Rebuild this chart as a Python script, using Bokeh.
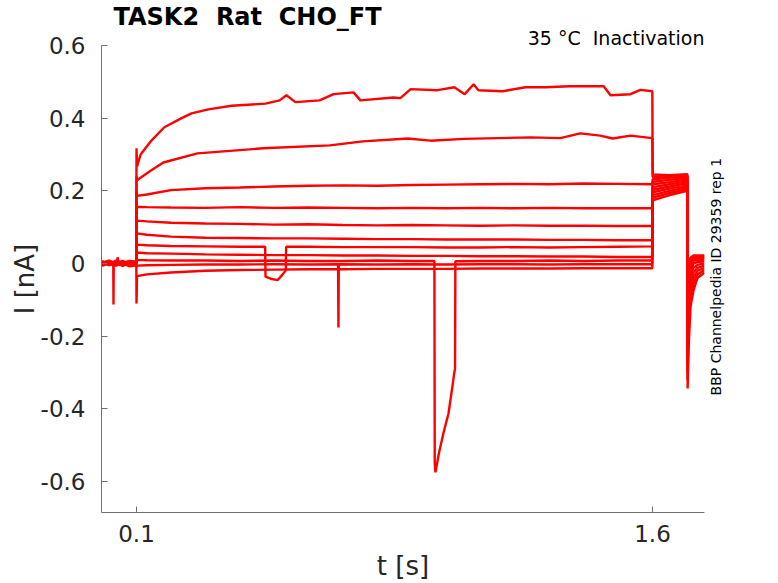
from bokeh.plotting import figure
from bokeh.models import Range1d, FixedTicker, LinearAxis, Title
from bokeh.embed import file_html
from bokeh.resources import INLINE
import math

# ---------------- data ----------------
X_TICKS = [0.1, 1.6]
X_LABELS = ["0.1", "1.6"]
Y_TICKS = [-0.6, -0.4, -0.2, 0.0, 0.2, 0.4, 0.6]
Y_LABELS = ["-0.6", "-0.4", "-0.2", "0", "0.2", "0.4", "0.6"]

# shared time grids [s]
PRE_T = [0.0, 0.02, 0.04, 0.06, 0.08, 0.0995]
STEP_T = [0.1, 0.1015, 0.13, 0.2, 0.3, 0.4, 0.5, 0.6, 0.7, 0.8, 0.9, 1.0,
          1.1, 1.2, 1.3, 1.4, 1.5, 1.5995]
POST_T = [1.6005, 1.65, 1.7012]
TAIL_T = [1.7022, 1.7046, 1.7104, 1.7192, 1.7308, 1.751]

# trace A (largest current)
pre_A = [0.004, -0.004, 0.008, 0.002, 0.006, 0.003]
step_t_A = [0.1, 0.1015, 0.112, 0.141, 0.181, 0.231, 0.260, 0.309, 0.376, 0.475,
            0.516, 0.536, 0.562, 0.632, 0.673, 0.731, 0.751, 0.847, 0.867, 0.897,
            0.975, 1.024, 1.054, 1.080, 1.094, 1.164, 1.231, 1.289, 1.359, 1.458,
            1.478, 1.536, 1.565, 1.5995]
step_A = [0.317, 0.267, 0.30, 0.336, 0.375, 0.40, 0.413, 0.424, 0.434, 0.44,
          0.449, 0.463, 0.444, 0.449, 0.466, 0.471, 0.449, 0.457, 0.455, 0.48,
          0.477, 0.485, 0.466, 0.493, 0.477, 0.474, 0.485, 0.485, 0.488, 0.488,
          0.463, 0.466, 0.478, 0.474]
post_A = [0.245, 0.243, 0.246]
tail_A = [-0.344, -0.24, -0.12, -0.074, -0.04, -0.025]

# trace B
pre_B = [-0.002, 0.006, 0.001, 0.007, -0.003, 0.002]
step_t_B = [0.1, 0.1015, 0.141, 0.178, 0.277, 0.468, 0.662, 0.758, 0.888, 0.955,
            1.051, 1.245, 1.332, 1.390, 1.448, 1.484, 1.536, 1.5995]
step_B = [0.24, 0.229, 0.255, 0.278, 0.303, 0.317, 0.325, 0.336, 0.344, 0.338,
          0.343, 0.347, 0.345, 0.358, 0.352, 0.344, 0.352, 0.345]
post_B = [0.238, 0.24, 0.243]
tail_B = [-0.32, -0.20, -0.09, -0.055, -0.03, -0.018]

# traces C..F, H, K on the shared grid
pre_C = [0.007, -0.004, 0.003, -0.006, 0.005, 0.000]
step_C = [0.20, 0.186, 0.19, 0.202, 0.207, 0.209, 0.212, 0.214, 0.215, 0.214,
          0.216, 0.217, 0.218, 0.219, 0.218, 0.220, 0.219, 0.218]
post_C = [0.232, 0.236, 0.24]
tail_C = [-0.30, -0.16, -0.07, -0.04, -0.02, -0.012]

pre_D = [0.000, 0.007, -0.005, 0.004, 0.001, 0.005]
step_D = [0.165, 0.156, 0.155, 0.154, 0.153, 0.155, 0.153, 0.154, 0.153, 0.152,
          0.153, 0.152, 0.153, 0.152, 0.153, 0.152, 0.152, 0.152]
post_D = [0.225, 0.23, 0.236]
tail_D = [-0.28, -0.13, -0.05, -0.025, -0.012, -0.006]

pre_E = [0.003, -0.002, 0.005, -0.004, 0.002, -0.003]
step_E = [0.125, 0.118, 0.116, 0.112, 0.110, 0.109, 0.107, 0.108, 0.106, 0.105,
          0.106, 0.105, 0.104, 0.105, 0.104, 0.104, 0.103, 0.103]
post_E = [0.218, 0.224, 0.231]
tail_E = [-0.26, -0.10, -0.035, -0.012, -0.004, 0.0]

pre_F = [-0.005, 0.002, -0.002, 0.005, -0.004, 0.001]
step_F = [0.09, 0.083, 0.079, 0.074, 0.071, 0.070, 0.069, 0.069, 0.068, 0.067,
          0.067, 0.066, 0.066, 0.066, 0.065, 0.065, 0.064, 0.064]
post_F = [0.21, 0.218, 0.226]
tail_F = [-0.24, -0.08, -0.02, 0.0, 0.004, 0.006]

# trace G (with a dip around 0.5 s)
pre_G = [0.002, 0.008, 0.000, 0.001, 0.007, 0.005]
step_t_G = [0.1, 0.1015, 0.13, 0.2, 0.3, 0.4, 0.474, 0.475, 0.49, 0.51,
            0.525, 0.534, 0.535, 0.6, 0.7, 0.8, 0.9, 1.0, 1.1, 1.2,
            1.3, 1.4, 1.5, 1.5995]
step_G = [0.065, 0.052, 0.050, 0.048, 0.047, 0.046, 0.046, -0.036, -0.042, -0.046,
          -0.03, -0.019, 0.046, 0.046, 0.045, 0.045, 0.045, 0.044, 0.044, 0.045,
          0.044, 0.045, 0.046, 0.047]
post_G = [0.203, 0.212, 0.221]
tail_G = [-0.22, -0.06, -0.01, 0.008, 0.01, 0.011]

# trace H (small blip before the step)
pre_t_H = [0.0, 0.02, 0.044, 0.045, 0.048, 0.06, 0.08, 0.0995]
pre_H = [0.001, -0.003, 0.0, 0.017, 0.002, -0.001, 0.004, -0.004]
step_H = [0.035, 0.030, 0.028, 0.027, 0.025, 0.024, 0.023, 0.023, 0.022, 0.022,
          0.021, 0.021, 0.020, 0.020, 0.019, 0.019, 0.018, 0.018]
post_H = [0.196, 0.206, 0.215]
tail_H = [-0.20, -0.04, 0.0, 0.013, 0.015, 0.015]

# trace I (spike before the step, large transient near 1 s)
pre_t_I = [0.0, 0.02, 0.0325, 0.0331, 0.0338, 0.06, 0.08, 0.0995]
pre_I = [-0.003, 0.003, 0.002, -0.113, 0.001, -0.005, 0.0, -0.001]
step_t_I = [0.1, 0.1015, 0.13, 0.2, 0.3, 0.4, 0.5, 0.6, 0.7, 0.8,
            0.9, 0.966, 0.967, 0.969, 0.979, 0.992, 1.007, 1.018, 1.024, 1.026,
            1.027, 1.1, 1.2, 1.3, 1.4, 1.5, 1.5995]
step_I = [0.015, 0.010, 0.009, 0.008, 0.008, 0.007, 0.008, 0.007, 0.007, 0.008,
          0.007, 0.007, -0.55, -0.575, -0.523, -0.468, -0.413, -0.341, -0.30, -0.29,
          0.006, 0.007, 0.007, 0.008, 0.007, 0.008, 0.008]
post_I = [0.188, 0.2, 0.21]
tail_I = [-0.18, -0.025, 0.006, 0.017, 0.018, 0.018]

# trace J (short spike near 0.69 s)
pre_J = [0.006, -0.005, 0.002, -0.007, 0.003, -0.004]
step_t_J = [0.1, 0.1015, 0.13, 0.2, 0.3, 0.4, 0.5, 0.6, 0.686, 0.687,
            0.688, 0.8, 0.9, 1.0, 1.1, 1.2, 1.3, 1.4, 1.5, 1.5995]
step_J = [-0.01, -0.006, -0.005, -0.004, -0.003, -0.003, -0.002, -0.003, -0.002, -0.176,
          -0.002, -0.003, -0.002, -0.003, -0.002, -0.002, -0.003, -0.002, -0.002, -0.002]
post_J = [0.181, 0.194, 0.205]
tail_J = [-0.16, -0.012, 0.01, 0.019, 0.02, 0.02]

# trace K (lowest, downward onset transient)
pre_K = [-0.007, 0.001, -0.006, 0.000, -0.008, -0.005]
step_K = [-0.11, -0.035, -0.03, -0.025, -0.02, -0.018, -0.017, -0.016, -0.016, -0.015,
          -0.015, -0.015, -0.014, -0.014, -0.014, -0.013, -0.013, -0.013]
post_K = [0.174, 0.188, 0.2]
tail_K = [-0.14, 0.0, 0.015, 0.022, 0.022, 0.022]

TRACES = [
    (PRE_T, pre_A, step_t_A, step_A, post_A, tail_A),
    (PRE_T, pre_B, step_t_B, step_B, post_B, tail_B),
    (PRE_T, pre_C, STEP_T, step_C, post_C, tail_C),
    (PRE_T, pre_D, STEP_T, step_D, post_D, tail_D),
    (PRE_T, pre_E, STEP_T, step_E, post_E, tail_E),
    (PRE_T, pre_F, STEP_T, step_F, post_F, tail_F),
    (PRE_T, pre_G, step_t_G, step_G, post_G, tail_G),
    (pre_t_H, pre_H, STEP_T, step_H, post_H, tail_H),
    (pre_t_I, pre_I, step_t_I, step_I, post_I, tail_I),
    (PRE_T, pre_J, step_t_J, step_J, post_J, tail_J),
    (PRE_T, pre_K, STEP_T, step_K, post_K, tail_K),
]

NBSP = "\u00a0"
TITLE = "TASK2 " + NBSP + "Rat " + NBSP + "CHO_FT"
SUBTITLE = "35 °C " + NBSP + "Inactivation"
SIDE_NOTE = "BBP Channelpedia ID 29359 rep 1"
SIDE_NOTE_Y = -0.3633   # where the (bottom-to-top) note starts
X_LABEL = "t [s]"
Y_LABEL = "I [nA]"

# ---------------- figure ----------------
FONT = "DejaVu Sans"
TXT = "#262626"
AX = "#707070"
W, H = 778, 583

p = figure(width=W, height=H,
           x_range=Range1d(-0.00174, 1.7512), y_range=Range1d(-0.6855, 0.6),
           output_backend="svg", toolbar_location=None,
           min_border_left=101, min_border_right=W - 704,
           min_border_top=45, min_border_bottom=H - 512,
           background_fill_color="white", border_fill_color="white")
p.outline_line_color = None
p.grid.visible = False

for pre_t, pre_v, st_t, st_v, po_v, ta_v in TRACES:
    t = list(pre_t) + list(st_t) + list(POST_T) + list(TAIL_T)
    i = list(pre_v) + list(st_v) + list(po_v) + list(ta_v)
    p.line(t, i, line_color="#ff0000", line_width=2.4)

p.xaxis.ticker = FixedTicker(ticks=X_TICKS)
p.xaxis.major_label_overrides = dict(zip(X_TICKS, X_LABELS))
p.yaxis.ticker = FixedTicker(ticks=Y_TICKS)
p.yaxis.major_label_overrides = dict(zip(Y_TICKS, Y_LABELS))

for ax in (p.xaxis, p.yaxis):
    ax.axis_line_color = AX
    ax.axis_line_width = 1
    ax.major_tick_line_color = AX
    ax.major_tick_in = 6
    ax.major_tick_out = 0
    ax.minor_tick_line_color = None
    ax.major_label_text_font = FONT
    ax.major_label_text_font_size = "23px"
    ax.major_label_text_color = TXT
    ax.axis_label_text_font = FONT
    ax.axis_label_text_font_size = "26px"
    ax.axis_label_text_font_style = "normal"
    ax.axis_label_text_color = TXT
p.xaxis.major_label_standoff = 12
p.yaxis.major_label_standoff = 16
p.xaxis.axis_label_standoff = 6
p.yaxis.axis_label_standoff = -2
p.xaxis.axis_label = X_LABEL
p.yaxis.axis_label = Y_LABEL

# side note shown as the single label of an unlined right-hand axis
side = LinearAxis(ticker=FixedTicker(ticks=[SIDE_NOTE_Y]),
                  major_label_overrides={SIDE_NOTE_Y: SIDE_NOTE})
side.axis_line_color = None
side.major_tick_line_color = None
side.minor_tick_line_color = None
side.major_label_orientation = math.pi / 2
side.major_label_standoff = 6
side.major_label_text_font = FONT
side.major_label_text_font_size = "14px"
side.major_label_text_color = "black"
p.add_layout(side, "right")

# subtitle (closest to the frame) and main title
sub = Title(text=SUBTITLE, align="right", text_font=FONT,
            text_font_size="19px", text_font_style="normal",
            text_color="black", standoff=-6)
p.add_layout(sub, "above")

p.title.text = TITLE
p.title.align = "left"
p.title.offset = 12
p.title.text_font = FONT
p.title.text_font_size = "24px"
p.title.text_font_style = "bold"
p.title.text_color = "black"
p.title.standoff = -6

open("out.html", "w").write(file_html(p, INLINE))
